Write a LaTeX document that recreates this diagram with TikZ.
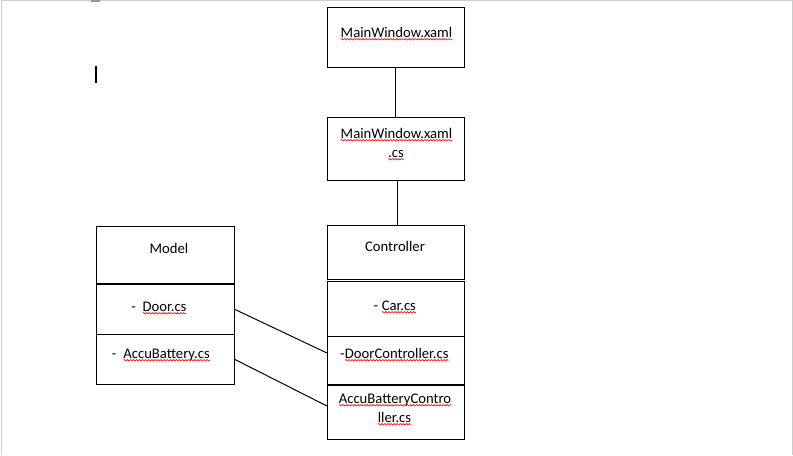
\documentclass[tikz,border=0pt]{standalone}
\usepackage{fontspec}
\setmainfont{Carlito}
\usetikzlibrary{decorations.pathmorphing}
\definecolor{framegrey}{RGB}{205,205,205}
\definecolor{markgrey}{RGB}{150,150,150}
\newcommand\sqw[1]{\tikz[baseline=(w.base)]{\node[inner sep=0pt,outer sep=0pt,anchor=base,draw=none](w){#1};\draw[red,line width=0.45pt,decorate,decoration={snake,amplitude=0.55pt,segment length=2.3pt}]([yshift=-1.7pt]w.base west)--([yshift=-1.7pt]w.base east);}}
\tikzset{
  box/.style={draw=black,line width=0.75pt,inner sep=0pt,outer sep=0pt,anchor=north west,minimum width=#1},
  box/.default=102.75pt,
  lbl/.style={inner sep=0pt,anchor=base,font=\fontsize{11pt}{13pt}\selectfont},
  conn/.style={draw=black,line width=0.75pt}
}
\begin{document}
\begin{tikzpicture}[x=0.75pt,y=-0.75pt]
\useasboundingbox (0,0) rectangle (793,455);
% screenshot frame
\draw[framegrey,line width=0.75pt] (1,455) -- (1,0.5) -- (792,0.5) -- (792,455);
\fill[markgrey] (91,0) rectangle (100,2);
\draw[black,line width=0.9pt] (96,66) -- (96,83);
% boxes
\node[box,minimum height=45pt] (mw) at (327,7) {};
\node[box,minimum height=47.25pt] (mwcs) at (327,117) {};
\node[box,minimum height=40.5pt] (ctrl) at (327,225) {};
\node[box,minimum height=41.25pt] (car) at (327,281) {};
\node[box,minimum height=36pt] (dc) at (327,336) {};
\node[box,minimum height=40.5pt] (abc) at (327,385) {};
\node[box=103.5pt,minimum height=42.75pt] (model) at (96,226) {};
\node[box=103.5pt,minimum height=37.5pt] (door) at (96,284) {};
\node[box=103.5pt,minimum height=37.5pt] (accu) at (96,334) {};
% labels
\node[lbl] (tmw) at (396.5,37) {\sqw{MainWindow.xaml}};
\node[lbl] (tmwcsa) at (396.5,138) {\sqw{MainWindow.xaml}};
\node[lbl] (tmwcsb) at (396,157) {\sqw{.cs}};
\node[lbl] (tctrl) at (395,251) {Controller};
\node[lbl] (tcar) at (395,310) {- \sqw{Car.cs}};
\node[lbl] (tdc) at (394.5,358) {-\sqw{DoorController.cs}};
\node[lbl] (tabca) at (395,403) {\sqw{AccuBatteryContro}};
\node[lbl] (tabcb) at (394.5,422) {\sqw{ller.cs}};
\node[lbl] (tmodel) at (169,253) {Model};
\node[lbl] (tdoor) at (159,311) {-\ \ \sqw{Door.cs}};
\node[lbl] (taccu) at (161,358) {-\ \ \sqw{AccuBattery.cs}};
% connectors
\draw[conn] (mw.south) -- (mwcs.north);
\draw[conn] ([xshift=1.5pt]mwcs.south) -- ([xshift=1.5pt]ctrl.north);
\draw[conn] (door.east) -- ([yshift=5.25pt]dc.west);
\draw[conn] (accu.east) -- ([yshift=4.5pt]abc.west);
\end{tikzpicture}
\end{document}
